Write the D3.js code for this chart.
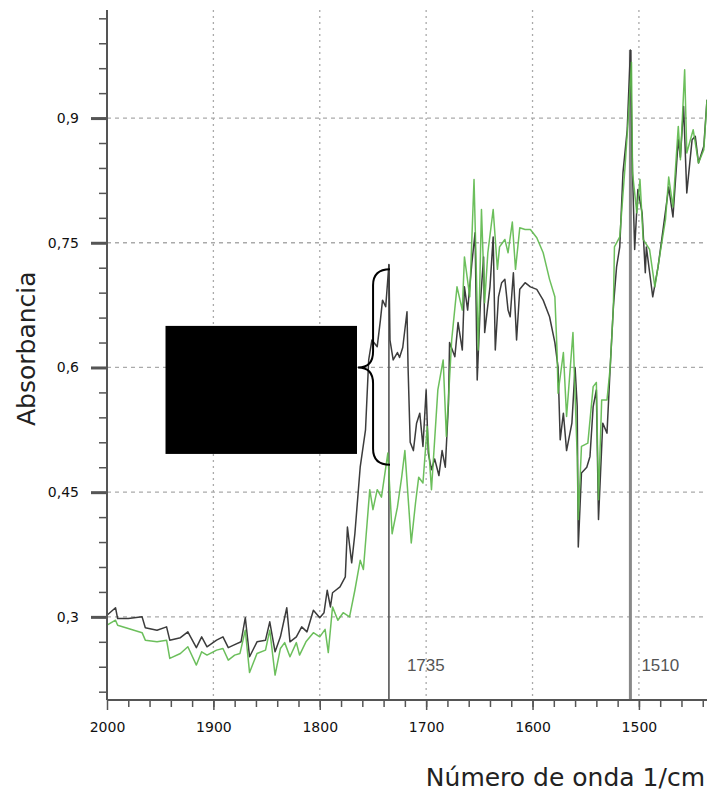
<!DOCTYPE html>
<html>
<head>
<meta charset="utf-8">
<script src="https://cdn.jsdelivr.net/npm/d3@7"></script>
<style>
  body { margin: 0; background: #fff; }
  svg { display: block; font-family: "DejaVu Sans", sans-serif; }
</style>
</head>
<body>
<div id="chart"></div>
<script>
// wavenumber (1/cm) and absorbance
const blackWn = [2000, 1992, 1990, 1980, 1967, 1964, 1953, 1944, 1941, 1931, 1924, 1916, 1911, 1906, 1897, 1891, 1886, 1881, 1874, 1870,
    1866, 1859, 1851, 1847, 1842, 1837, 1831, 1828, 1822, 1817, 1812, 1806, 1800, 1796, 1793, 1790, 1788, 1781, 1776, 1774,
    1770, 1767, 1762, 1757, 1754, 1751, 1746, 1743, 1741, 1738, 1735, 1734, 1731, 1727, 1725, 1722, 1718, 1717, 1715, 1712,
    1709, 1706, 1703, 1700, 1698, 1695, 1692, 1688, 1685, 1682, 1679, 1678, 1673, 1670, 1666, 1664, 1661, 1657, 1654, 1652,
    1649, 1646, 1645, 1640, 1637, 1635, 1632, 1629, 1626, 1623, 1621, 1618, 1615, 1612, 1607, 1602, 1596, 1590, 1584, 1579,
    1576, 1574, 1571, 1568, 1563, 1560, 1558, 1557, 1554, 1549, 1546, 1543, 1540, 1538, 1534, 1530, 1527, 1524, 1521, 1518,
    1515, 1511, 1508, 1506, 1504, 1501, 1497, 1494, 1493, 1487, 1482, 1477, 1472, 1468, 1463, 1461, 1458, 1455, 1450, 1447,
    1444, 1439, 1436];
const blackAbs = [0.302, 0.311, 0.298, 0.298, 0.300, 0.287, 0.284, 0.288, 0.272, 0.275, 0.282, 0.263, 0.276, 0.264, 0.272, 0.276, 0.263, 0.266, 0.270, 0.299,
    0.252, 0.270, 0.272, 0.294, 0.258, 0.276, 0.311, 0.270, 0.276, 0.288, 0.282, 0.308, 0.299, 0.305, 0.332, 0.312, 0.329, 0.336, 0.348, 0.408,
    0.365, 0.400, 0.480, 0.525, 0.609, 0.633, 0.625, 0.657, 0.681, 0.673, 0.724, 0.633, 0.609, 0.618, 0.612, 0.624, 0.667, 0.600, 0.510, 0.500,
    0.533, 0.545, 0.505, 0.573, 0.497, 0.477, 0.490, 0.470, 0.500, 0.480, 0.557, 0.630, 0.613, 0.654, 0.621, 0.697, 0.669, 0.726, 0.762, 0.585,
    0.678, 0.733, 0.642, 0.697, 0.757, 0.621, 0.685, 0.702, 0.706, 0.669, 0.661, 0.714, 0.633, 0.694, 0.702, 0.697, 0.694, 0.681, 0.661, 0.630,
    0.600, 0.513, 0.545, 0.500, 0.533, 0.600, 0.553, 0.384, 0.473, 0.480, 0.493, 0.553, 0.573, 0.417, 0.533, 0.521, 0.600, 0.673, 0.721, 0.745,
    0.834, 0.886, 0.982, 0.834, 0.742, 0.814, 0.786, 0.714, 0.745, 0.685, 0.721, 0.769, 0.817, 0.781, 0.874, 0.853, 0.914, 0.810, 0.874, 0.878,
    0.846, 0.866, 0.922];

const greenWn = [2000, 1992, 1990, 1980, 1967, 1964, 1953, 1944, 1941, 1931, 1924, 1916, 1911, 1906, 1897, 1891, 1886, 1880, 1875, 1870,
    1866, 1859, 1851, 1847, 1842, 1837, 1833, 1828, 1822, 1819, 1813, 1806, 1800, 1795, 1792, 1788, 1783, 1778, 1772, 1767,
    1762, 1759, 1753, 1750, 1746, 1742, 1736, 1732, 1727, 1723, 1720, 1714, 1710, 1707, 1703, 1699, 1695, 1689, 1684, 1681,
    1676, 1671, 1666, 1664, 1659, 1655, 1651, 1648, 1645, 1642, 1637, 1633, 1631, 1626, 1623, 1619, 1616, 1612, 1607, 1602,
    1596, 1590, 1584, 1579, 1577, 1576, 1571, 1568, 1562, 1558, 1557, 1554, 1548, 1543, 1540, 1538, 1535, 1530, 1527, 1524,
    1523, 1518, 1513, 1510, 1507, 1506, 1502, 1499, 1496, 1490, 1485, 1480, 1475, 1472, 1468, 1463, 1461, 1457, 1455, 1449,
    1444, 1439, 1436];
const greenAbs = [0.290, 0.296, 0.290, 0.286, 0.281, 0.272, 0.270, 0.272, 0.250, 0.256, 0.264, 0.242, 0.258, 0.254, 0.260, 0.262, 0.248, 0.254, 0.256, 0.284,
    0.233, 0.256, 0.260, 0.284, 0.230, 0.262, 0.269, 0.252, 0.269, 0.254, 0.270, 0.281, 0.276, 0.285, 0.257, 0.312, 0.296, 0.305, 0.300, 0.332,
    0.368, 0.357, 0.453, 0.429, 0.453, 0.444, 0.497, 0.400, 0.432, 0.468, 0.500, 0.389, 0.437, 0.468, 0.461, 0.529, 0.453, 0.573, 0.609, 0.517,
    0.633, 0.697, 0.669, 0.733, 0.685, 0.826, 0.621, 0.790, 0.678, 0.738, 0.790, 0.718, 0.745, 0.754, 0.738, 0.775, 0.718, 0.768, 0.766, 0.766,
    0.756, 0.738, 0.706, 0.685, 0.621, 0.569, 0.618, 0.541, 0.642, 0.493, 0.417, 0.505, 0.509, 0.577, 0.582, 0.441, 0.561, 0.561, 0.600, 0.673,
    0.745, 0.757, 0.842, 0.900, 0.967, 0.834, 0.786, 0.826, 0.754, 0.742, 0.697, 0.738, 0.778, 0.829, 0.793, 0.890, 0.850, 0.958, 0.858, 0.886,
    0.846, 0.862, 0.922];

// axis ticks
const xMajor = [2000, 1900, 1800, 1700, 1600, 1500];
const yMajor = [0.3, 0.45, 0.6, 0.75, 0.9];
const yLabels = ["0,3", "0,45", "0,6", "0,75", "0,9"];

// marked peaks (line position as drawn, plus its label)
const peakWn = [1735, 1508];
const peakTop = [0.724, 0.982];
const peakLabels = ["1735", "1510"];

// redaction box and brace, in data units
const boxWn = [1945, 1765];
const boxAbs = [0.650, 0.496];
const braceWn = [1764, 1734];
const braceAbs = [0.718, 0.600, 0.483];

const W = 707, H = 793;
const x = d3.scaleLinear().domain([2000, 1436]).range([107, 707]);
const y = d3.scaleLinear().domain([0.2, 1.03]).range([700, 10]);

const svg = d3.select("#chart").append("svg")
    .attr("width", W)
    .attr("height", H);

// grid
svg.append("g")
    .selectAll("line")
    .data(xMajor.slice(1))
    .enter().append("line")
    .attr("x1", d => x(d)).attr("x2", d => x(d))
    .attr("y1", y(1.03)).attr("y2", y(0.2))
    .attr("stroke", "#aaa")
    .attr("stroke-width", 1.3)
    .attr("stroke-dasharray", "2,4");

svg.append("g")
    .selectAll("line")
    .data(yMajor)
    .enter().append("line")
    .attr("x1", x(2000)).attr("x2", x(1436))
    .attr("y1", d => y(d)).attr("y2", d => y(d))
    .attr("stroke", "#aaa")
    .attr("stroke-width", 1.3)
    .attr("stroke-dasharray", "4,4");

// peak marker lines
svg.append("g")
    .selectAll("line")
    .data(peakWn)
    .enter().append("line")
    .attr("x1", d => x(d)).attr("x2", d => x(d))
    .attr("y1", (d, i) => y(peakTop[i])).attr("y2", y(0.2))
    .attr("stroke", (d, i) => i === 0 ? "#555" : "#888")
    .attr("stroke-width", (d, i) => i === 0 ? 1.6 : 3);

svg.append("g")
    .selectAll("text")
    .data(peakLabels)
    .enter().append("text")
    .attr("x", (d, i) => x(peakWn[i]) + (i === 0 ? 18 : 11))
    .attr("y", 671)
    .attr("font-family", "Liberation Sans, sans-serif")
    .attr("font-size", 17)
    .attr("fill", "#555")
    .text(d => d);

// traces
const line = d3.line()
    .x(d => x(d[0]))
    .y(d => y(d[1]));

svg.append("path")
    .datum(d3.zip(blackWn, blackAbs))
    .attr("d", line)
    .attr("fill", "none")
    .attr("stroke", "#3c3c3c")
    .attr("stroke-width", 1.5)
    .attr("stroke-linejoin", "round");

svg.append("path")
    .datum(d3.zip(greenWn, greenAbs))
    .attr("d", line)
    .attr("fill", "none")
    .attr("stroke", "#5cb84a")
    .attr("stroke-opacity", 0.9)
    .attr("stroke-width", 1.5)
    .attr("stroke-linejoin", "round");

// axes
svg.append("g")
    .attr("transform", "translate(" + x(2000) + ",0)")
    .call(d3.axisLeft(y).tickValues(d3.range(0.21, 1.03, 0.03)).tickSize(8).tickFormat(""))
    .call(g => g.select(".domain").remove())
    .call(g => g.selectAll("line").attr("stroke", "#555").attr("stroke-width", 1.5));

svg.append("g")
    .attr("transform", "translate(" + x(2000) + ",0)")
    .call(d3.axisLeft(y).tickValues(yMajor).tickSize(16).tickPadding(12)
        .tickFormat((d, i) => yLabels[i]))
    .call(g => g.select(".domain").remove())
    .call(g => g.selectAll("line").attr("stroke", "#555").attr("stroke-width", 3))
    .call(g => g.selectAll("text").attr("font-size", 14).attr("fill", "#111")
        .attr("font-family", "DejaVu Sans, sans-serif"));

svg.append("g")
    .attr("transform", "translate(0," + y(0.2) + ")")
    .call(d3.axisBottom(x).tickValues(d3.range(1980, 1436, -20)).tickSize(7).tickFormat(""))
    .call(g => g.select(".domain").remove())
    .call(g => g.selectAll("line").attr("stroke", "#555").attr("stroke-width", 1.5));

svg.append("g")
    .attr("transform", "translate(0," + y(0.2) + ")")
    .call(d3.axisBottom(x).tickValues(xMajor).tickSize(10).tickPadding(12).tickFormat(d3.format("d")))
    .call(g => g.select(".domain").remove())
    .call(g => g.selectAll("line").attr("stroke", "#555").attr("stroke-width", 1.5))
    .call(g => g.selectAll("text").attr("font-size", 14).attr("fill", "#111")
        .attr("font-family", "DejaVu Sans, sans-serif"));

svg.append("line")
    .attr("x1", x(2000)).attr("x2", x(2000))
    .attr("y1", y(1.03)).attr("y2", y(0.2))
    .attr("stroke", "#555").attr("stroke-width", 2);
svg.append("line")
    .attr("x1", x(2000)).attr("x2", x(1436))
    .attr("y1", y(0.2)).attr("y2", y(0.2))
    .attr("stroke", "#555").attr("stroke-width", 2);

// redaction box
svg.append("rect")
    .attr("x", x(boxWn[0]))
    .attr("y", y(boxAbs[0]))
    .attr("width", x(boxWn[1]) - x(boxWn[0]))
    .attr("height", y(boxAbs[1]) - y(boxAbs[0]))
    .attr("fill", "#000");

// curly brace
const bx0 = x(braceWn[0]), bx1 = x(braceWn[1]), bm = bx0 + 15;
const by0 = y(braceAbs[0]), byc = y(braceAbs[1]), by1 = y(braceAbs[2]);
const bracePath = d3.path();
bracePath.moveTo(bx1, by0);
bracePath.quadraticCurveTo(bm, by0, bm, by0 + 16);
bracePath.lineTo(bm, byc - 16);
bracePath.quadraticCurveTo(bm, byc, bx0, byc);
bracePath.quadraticCurveTo(bm, byc, bm, byc + 16);
bracePath.lineTo(bm, by1 - 16);
bracePath.quadraticCurveTo(bm, by1, bx1, by1);
svg.append("path")
    .attr("d", bracePath.toString())
    .attr("fill", "none")
    .attr("stroke", "#000")
    .attr("stroke-width", 2);

// axis titles
svg.append("text")
    .attr("transform", "translate(35," + ((y(0.6) + y(0.65)) / 2 + 2) + ") rotate(-90)")
    .attr("text-anchor", "middle")
    .attr("font-size", 25)
    .attr("fill", "#222")
    .text("Absorbancia");

svg.append("text")
    .attr("x", 705)
    .attr("y", 786)
    .attr("text-anchor", "end")
    .attr("font-size", 25)
    .attr("fill", "#222")
    .text("Número de onda 1/cm");
</script>
</body>
</html>
